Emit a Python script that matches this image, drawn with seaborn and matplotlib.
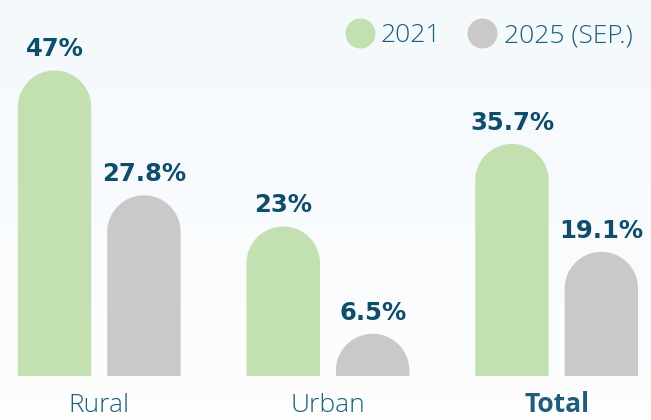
import numpy as np
import pandas as pd
import matplotlib
matplotlib.use("Agg")
import matplotlib.pyplot as plt
import seaborn as sns
from matplotlib.patches import Polygon
from matplotlib.transforms import blended_transform_factory

# ---- data ----
categories = ["Rural", "Urban", "Total"]
periods = ["2021", "2025 (SEP.)"]
values_2021 = [47, 23, 35.7]
values_2025 = [27.8, 6.5, 19.1]

# ---- style ----
GREEN = "#c3e0b0"
GREY = "#cbc9c8"
VALUE_COLOR = "#0e4d6b"
TEXT_COLOR = "#1f5d7d"

sns.set_theme(style="white")
plt.rcParams["font.family"] = ["DejaVu Sans"]

df = pd.DataFrame({
    "category": categories * 2,
    "period": [periods[0]] * 3 + [periods[1]] * 3,
    "value": values_2021 + values_2025,
})

W, H, DPI = 6.51, 4.20, 100
fig = plt.figure(figsize=(W, H), dpi=DPI)

# background gradient
bg = fig.add_axes([0, 0, 1, 1], zorder=-5)
grad = np.linspace(0, 1, 256).reshape(-1, 1)
top = np.array([0.957, 0.976, 0.992])
bot = np.array([0.993, 0.993, 0.993])
img = top[None, None, :] * (1 - grad[..., None]) + bot[None, None, :] * grad[..., None]
bg.imshow(img, aspect="auto", extent=[0, 1, 0, 1], origin="upper")
bg.set_axis_off()

ax = fig.add_axes([0, 0, 1, 1])
ax.set_facecolor((1, 1, 1, 0))

px_per_unit_y = 6.5
base_px = 44.0
group_px = 228.7
first_center_px = 99.25
XLIM = (-first_center_px / group_px, (651 - first_center_px) / group_px)
YLIM = (-base_px / px_per_unit_y, (420 - base_px) / px_per_unit_y)

sns.barplot(data=df, x="category", y="value", hue="period",
            palette=[GREEN, GREY], saturation=1, width=0.782, gap=0.179,
            linewidth=0, legend=False, ax=ax)
ax.set_xlim(*XLIM)
ax.set_ylim(*YLIM)

# rounded tops (semicircle caps) + value labels
theta = np.linspace(0, np.pi, 80)
for cont in ax.containers:
    for bar in cont:
        x, w, h = bar.get_x(), bar.get_width(), bar.get_height()
        cx = x + w / 2
        (x0, _), (x1, _) = ax.transData.transform([(x, 0), (x + w, 0)])
        r_px = (x1 - x0) / 2
        ry = min(r_px / px_per_unit_y, h)
        yc = h - ry
        arc = np.column_stack([cx + (w / 2) * np.cos(theta), yc + ry * np.sin(theta)])
        verts = np.vstack([[(x, 0), (x + w, 0), (x + w, yc)], arc, [(x, yc)]])
        ax.add_patch(Polygon(verts, closed=True, facecolor=bar.get_facecolor(),
                             edgecolor="none", lw=0, zorder=bar.get_zorder()))
        bar.set_visible(False)
        ax.text(cx, h + 14 / px_per_unit_y, f"{h:g}%", ha="center", va="baseline",
                fontsize=17.5, fontweight="bold", color=VALUE_COLOR,
                family="DejaVu Sans")

# category labels
bt = blended_transform_factory(ax.transData, ax.transAxes)
for i, cat in enumerate(categories):
    ax.text(i, 8.5 / 420, cat, transform=bt, ha="center", va="baseline",
            fontsize=19, color=TEXT_COLOR,
            fontweight="bold" if cat == "Total" else "light",
            family=["Open Sans", "DejaVu Sans"])

# legend
leg_y = 1 - 32.7 / 420
for cx_px, col, tx_px, lab in [(359.5, GREEN, 381, periods[0]),
                                (482, GREY, 504, periods[1])]:
    ax.scatter([cx_px / 651], [leg_y], s=(30 * 72 / 100) ** 2, color=col,
               transform=ax.transAxes, linewidths=0, clip_on=False, zorder=5)
    ax.text(tx_px / 651, 1 - 42.3 / 420, lab, transform=ax.transAxes,
            ha="left", va="baseline", fontsize=19, color=TEXT_COLOR,
            fontweight="light", family=["Open Sans", "DejaVu Sans"])

ax.set_xlabel("")
ax.set_ylabel("")
ax.set_xticks([])
ax.set_yticks([])
for s in ax.spines.values():
    s.set_visible(False)

fig.savefig("out.png", dpi=DPI)
